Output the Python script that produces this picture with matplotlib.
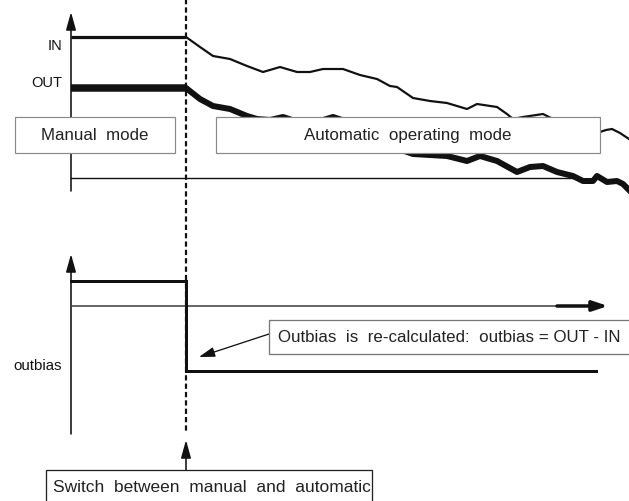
import matplotlib
matplotlib.use('Agg')
import matplotlib.pyplot as plt
from matplotlib.patches import Rectangle

plt.rcParams['font.family'] = ['Liberation Sans', 'DejaVu Sans']

# diagram is drawn in a pixel-like frame: x = time, y grows downwards
switch_t = 186

# top panel: manual part (flat) and automatic part (drifting)
t_manual = [71, 186]
in_manual = [38, 38]
out_manual = [89, 89]

t_in_auto = [186, 200, 213, 230, 247, 263, 280, 297, 310, 323, 343, 360, 377, 390,
             397, 413, 430, 447, 467, 477, 497, 507, 513, 523, 543, 553, 570,
             600, 606, 612, 620, 629]
in_auto = [38, 48, 57, 60, 67, 73, 68, 73, 73, 70, 70, 76, 80, 87,
           88, 99, 102, 104, 110, 105, 108, 115, 120, 118, 115, 120, 126,
           133, 131, 130, 134, 140]

t_out_auto = [186, 200, 213, 230, 247, 257, 270, 283, 295, 320, 333, 345, 370,
              413, 447, 467, 480, 497, 517, 530, 543, 557, 573, 583, 593, 597,
              607, 617, 623, 629]
out_auto = [89, 100, 107, 110, 117, 120, 121, 118, 122, 122, 118, 122, 140,
            155, 157, 162, 157, 162, 173, 168, 167, 173, 177, 182, 182, 177,
            183, 182, 185, 191]

# bottom panel: outbias step
t_bias = [71, 186, 186, 596]
bias = [282, 282, 372, 372]

fig = plt.figure(figsize=(6.29, 5.02), dpi=100)
ax = fig.add_axes([0, 0, 1, 1])
ax.set_xlim(0, 629)
ax.set_ylim(502, 0)
ax.axis('off')

ink = '#111111'
px = 72 / 100  # one pixel in points

# ---- top panel
ax.annotate('', xy=(71, 13), xytext=(71, 192),
            arrowprops=dict(arrowstyle='-|>,head_length=0.9,head_width=0.25',
                            color=ink, lw=1.6 * px, mutation_scale=12, shrinkA=0, shrinkB=0),
            zorder=2)
ax.plot([71, 575], [179, 179], color=ink, lw=1.4 * px, zorder=2)

ax.plot(t_manual, in_manual, color=ink, lw=3.2 * px, solid_capstyle='butt', zorder=3)
ax.plot(t_manual, out_manual, color=ink, lw=7.5 * px, solid_capstyle='butt', zorder=3)
ax.plot(t_in_auto, in_auto, color=ink, lw=2.2 * px, solid_joinstyle='round', zorder=3)
ax.plot(t_out_auto, out_auto, color=ink, lw=6 * px, solid_joinstyle='round', zorder=3)

ax.text(62, 46, 'IN', ha='right', va='center', fontsize=10.5, color=ink)
ax.text(62, 83, 'OUT', ha='right', va='center', fontsize=10.5, color=ink)

ax.add_patch(Rectangle((15, 118), 160, 36, facecolor='white', edgecolor='#8a8a8a',
                       lw=1.2 * px, zorder=5))
ax.text(95, 136, 'Manual  mode', ha='center', va='center', fontsize=12.2, color='#222222', zorder=6)
ax.add_patch(Rectangle((216, 118), 384, 36, facecolor='white', edgecolor='#8a8a8a',
                       lw=1.2 * px, zorder=5))
ax.text(408, 136, 'Automatic  operating  mode', ha='center', va='center', fontsize=12.2,
        color='#222222', zorder=6)

# ---- switch line
ax.plot([switch_t, switch_t], [0, 432], color=ink, lw=2.2 * px,
        ls=(0, (2.4, 1.4)), zorder=4)

# ---- bottom panel
ax.annotate('', xy=(71, 255), xytext=(71, 435),
            arrowprops=dict(arrowstyle='-|>,head_length=0.9,head_width=0.25',
                            color=ink, lw=1.6 * px, mutation_scale=12, shrinkA=0, shrinkB=0),
            zorder=2)
ax.plot([71, 557], [307, 307], color='#444444', lw=1.6 * px, zorder=2)
ax.annotate('', xy=(608, 307), xytext=(557, 307),
            arrowprops=dict(arrowstyle='-|>,head_length=0.9,head_width=0.3',
                            color=ink, lw=3.5 * px, mutation_scale=10, shrinkA=0, shrinkB=0),
            zorder=2)
ax.plot(t_bias, bias, color=ink, lw=3 * px, solid_joinstyle='miter', zorder=3)

ax.text(62, 366, 'outbias', ha='right', va='center', fontsize=10.8, color=ink)

ax.add_patch(Rectangle((269, 321), 380, 34, facecolor='white', edgecolor='#777777',
                       lw=1.3 * px, zorder=5))
ax.text(278, 338, 'Outbias  is  re-calculated:  outbias = OUT - IN', ha='left', va='center',
        fontsize=12.2, color='#222222', zorder=6)
ax.annotate('', xy=(199, 358), xytext=(269, 335),
            arrowprops=dict(arrowstyle='-|>,head_length=0.8,head_width=0.25',
                            color=ink, lw=1.3 * px, mutation_scale=12, shrinkA=0, shrinkB=0),
            zorder=4)

ax.annotate('', xy=(switch_t, 441), xytext=(switch_t, 471),
            arrowprops=dict(arrowstyle='-|>,head_length=0.9,head_width=0.25',
                            color=ink, lw=1.6 * px, mutation_scale=12, shrinkA=0, shrinkB=0),
            zorder=4)
ax.add_patch(Rectangle((46, 471), 326, 40, facecolor='white', edgecolor='#222222',
                       lw=1.3 * px, zorder=5))
ax.text(53, 488, 'Switch  between  manual  and  automatic', ha='left', va='center',
        fontsize=12.5, color='#222222', zorder=6)

fig.savefig('out.png', dpi=100, facecolor='white')
